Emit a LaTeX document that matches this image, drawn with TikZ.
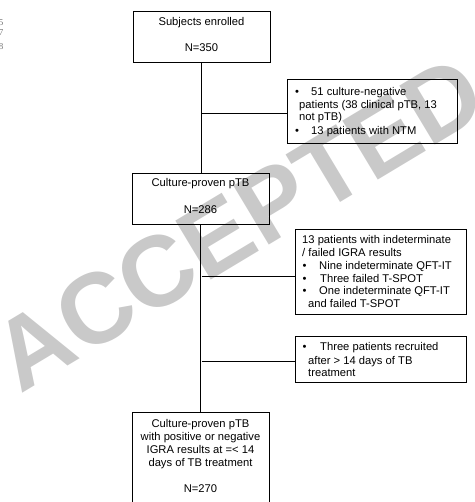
\documentclass[tikz,border=0pt]{standalone}
\usepackage{fontspec}
\setmainfont{Liberation Sans}
\newfontfamily\numfont{Liberation Serif}
\begin{document}
\begin{tikzpicture}[x=1pt,y=-1pt,
  box/.style={draw=black, line width=0.8pt, inner sep=0pt, minimum width=#1},
  conn/.style={draw=black, line width=0.8pt},
  txt/.style={inner sep=0pt, anchor=base, font=\fontsize{11.2}{13}\selectfont, text=black},
  ltxt/.style={txt, anchor=base west},
  wmark/.style={inner sep=0pt, anchor=base west, rotate=31, text=black!21,
    font=\fontsize{100}{100}\selectfont\bfseries},
  lnum/.style={inner sep=0pt, anchor=base east, text=black!55, font=\numfont\fontsize{9}{9}\selectfont}]
\useasboundingbox (0,0) rectangle (474,502);
% watermark
\node[wmark] (wm) at (20,395) {ACCEPTED};
% line numbers (cut off at the left edge)
\node[lnum] (n5) at (3.5,26) {5};
\node[lnum] (n7) at (3.5,36) {7};
\node[lnum] (n8) at (3.5,50) {8};
% main boxes
\node[box=137pt, minimum height=51pt] (b1) at (201.5,36.5) {};
\node[box=137pt, minimum height=51pt] (b3) at (200.5,198.5) {};
\node[box=137pt, minimum height=108pt] (b6) at (200.5,466) {};
% side boxes
\node[box=170pt, minimum height=64pt] (b2) at (372,111) {};
\node[box=171pt, minimum height=85pt] (b4) at (380.5,271.5) {};
\node[box=171pt, minimum height=46pt] (b5) at (380.5,359) {};
% connectors
\coordinate (j1) at (201.5,113);
\coordinate (j2) at (201.5,276);
\coordinate (j3) at (201.5,361);
\draw[conn] (b1.south) -- (b1.south |- b3.north);
\draw[conn] (j1) -- (j1 -| b2.west);
\draw[conn] (b3.south) -- (b3.south |- b6.north);
\draw[conn] (j2) -- (j2 -| b4.west);
\draw[conn] (j3) -- (j3 -| b5.west);
% box 1 text
\node[txt] (t1a) at (201.5,26) {Subjects enrolled};
\node[txt] (t1b) at (201.5,52) {N=350};
% box 3 text
\node[txt] (t3a) at (200.5,187) {Culture-proven pTB};
\node[txt] (t3b) at (200.5,214) {N=286};
% box 6 text
\node[txt] (t6a) at (200.5,427) {Culture-proven pTB};
\node[txt] (t6b) at (200.5,440) {with positive or negative};
\node[txt] (t6c) at (200.5,453) {IGRA results at =< 14};
\node[txt] (t6d) at (200.5,466) {days of TB treatment};
\node[txt] (t6e) at (200.5,492) {N=270};
% box 2 text
\node[ltxt] (t2a) at (295,96) {•};
\node[ltxt] (t2b) at (311,96) {51 culture-negative};
\node[ltxt] (t2c) at (299,108.5) {patients (38 clinical pTB, 13};
\node[ltxt] (t2d) at (299,121) {not pTB)};
\node[ltxt] (t2e) at (295,135) {•};
\node[ltxt] (t2f) at (311,135) {13 patients with NTM};
% box 4 text
\node[ltxt] (t4a) at (302,243.3) {13 patients with indeterminate};
\node[ltxt] (t4b) at (302,256) {/ failed IGRA results};
\node[ltxt] (t4c) at (302.5,269.3) {•};
\node[ltxt] (t4d) at (319,269.3) {Nine indeterminate QFT-IT};
\node[ltxt] (t4e) at (302.5,282) {•};
\node[ltxt] (t4f) at (320,282) {Three failed T-SPOT};
\node[ltxt] (t4g) at (302.5,294.7) {•};
\node[ltxt] (t4h) at (319,294.7) {One indeterminate QFT-IT};
\node[ltxt] (t4i) at (308,307) {and failed T-SPOT};
% box 5 text
\node[ltxt] (t5a) at (302.5,350.7) {•};
\node[ltxt] (t5b) at (320,350.7) {Three patients recruited};
\node[ltxt] (t5c) at (308,364) {after > 14 days of TB};
\node[ltxt] (t5d) at (308,376.7) {treatment};
\end{tikzpicture}
\end{document}
